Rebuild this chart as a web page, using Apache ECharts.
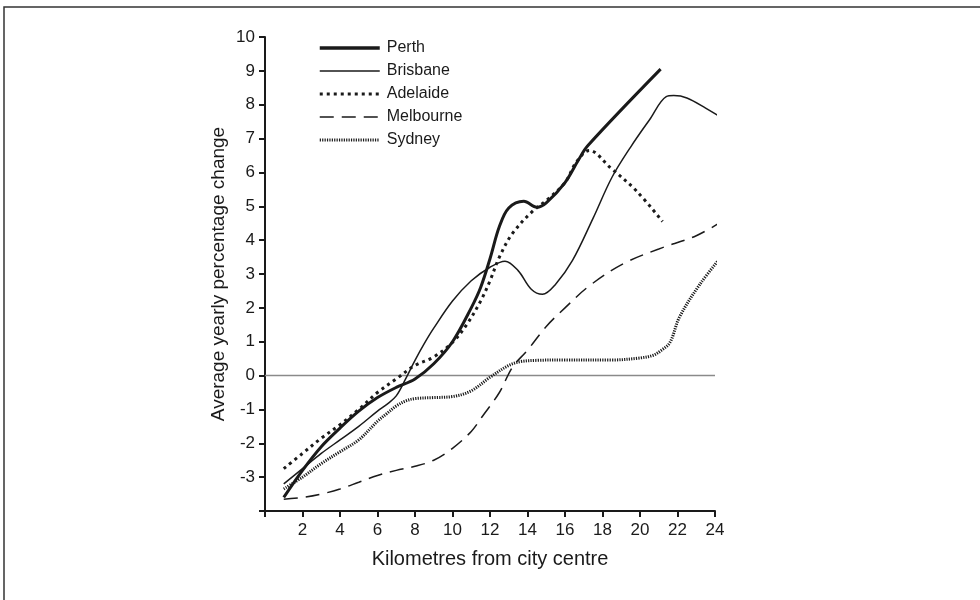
<!DOCTYPE html>
<html>
<head>
<meta charset="utf-8">
<script src="https://cdn.jsdelivr.net/npm/echarts@6/dist/echarts.min.js"></script>
<style>
html,body{margin:0;padding:0;background:#fff;}
#chart{width:980px;height:600px;}
</style>
</head>
<body>
<div id="chart"></div>
<script>
// ---- Data ----
const seriesNames = ['Perth', 'Brisbane', 'Adelaide', 'Melbourne', 'Sydney'];

const perthX = [1, 2, 3, 4, 5, 6, 7, 8, 9, 10, 11, 11.5, 12, 12.5, 13, 13.8, 14.5, 15, 16, 16.7, 17.2, 21.1];
const perthY = [-3.6, -2.8, -2.1, -1.55, -1.05, -0.65, -0.35, -0.1, 0.35, 1.0, 2.0, 2.6, 3.45, 4.4, 4.95, 5.15, 4.97, 5.1, 5.7, 6.35, 6.78, 9.05];

const brisbaneX = [1, 2, 3, 4, 5, 6, 6.5, 7, 7.5, 8, 8.5, 9, 10, 11, 12, 12.8, 13.5, 14.2, 14.8, 15.5, 16.4, 17.5, 18.5, 19.5, 20.5, 21.4, 21.8, 22.5, 23.5, 24.5];
const brisbaneY = [-3.2, -2.75, -2.3, -1.9, -1.5, -1.05, -0.85, -0.6, -0.1, 0.45, 0.95, 1.4, 2.2, 2.8, 3.2, 3.38, 3.1, 2.55, 2.4, 2.7, 3.4, 4.65, 5.85, 6.75, 7.55, 8.24, 8.27, 8.2, 7.9, 7.56];

const adelaideX = [1, 2, 3, 4, 5, 6, 7, 8, 9, 10, 10.75, 11.5, 12, 12.5, 13.2, 14.3, 15, 16, 16.6, 17.3, 18.4, 19.8, 21.2];
const adelaideY = [-2.75, -2.3, -1.85, -1.45, -1.0, -0.5, -0.1, 0.3, 0.55, 0.98, 1.5, 2.2, 2.8, 3.5, 4.2, 4.87, 5.17, 5.7, 6.3, 6.65, 6.15, 5.46, 4.55];

const melbourneX = [1, 2, 3, 4, 5, 6, 7, 8, 9, 10, 11, 11.6, 12.5, 13.2, 14, 15, 16, 17.3, 19.1, 21, 23, 24.6];
const melbourneY = [-3.65, -3.6, -3.5, -3.35, -3.15, -2.95, -2.8, -2.68, -2.5, -2.15, -1.65, -1.2, -0.5, 0.25, 0.75, 1.45, 2.0, 2.65, 3.3, 3.74, 4.13, 4.63];

const sydneyX = [1, 2, 3, 4, 5, 6, 6.5, 7, 7.5, 8, 9, 10, 11, 12, 13, 13.6, 14.5, 16, 18.5, 20, 20.7, 21.1, 21.6, 22.1, 23.2, 24.6];
const sydneyY = [-3.35, -3.0, -2.6, -2.25, -1.9, -1.35, -1.12, -0.9, -0.75, -0.68, -0.65, -0.62, -0.45, -0.05, 0.3, 0.41, 0.45, 0.46, 0.46, 0.52, 0.6, 0.73, 0.98, 1.72, 2.7, 3.69];

const xTicks = [2, 4, 6, 8, 10, 12, 14, 16, 18, 20, 22, 24];
const yTicks = [-3, -2, -1, 0, 1, 2, 3, 4, 5, 6, 7, 8, 9, 10];

const xTitle = 'Kilometres from city centre';
const yTitle = 'Average yearly percentage change';

// ---- Build ----
function pairs(xs, ys) { return xs.map((x, i) => [x, ys[i]]); }

const FONT = '"Liberation Sans", Arial, sans-serif';
const INK = '#1a1a1a';

const styles = {
  Perth:     { width: 3,   type: 'solid' },
  Brisbane:  { width: 1.5, type: 'solid' },
  Adelaide:  { width: 3,   type: [3, 4] },
  Melbourne: { width: 1.5, type: [14, 8] },
  Sydney:    { width: 3,   type: [1.2, 1.2] }
};
const dataMap = {
  Perth: pairs(perthX, perthY),
  Brisbane: pairs(brisbaneX, brisbaneY),
  Adelaide: pairs(adelaideX, adelaideY),
  Melbourne: pairs(melbourneX, melbourneY),
  Sydney: pairs(sydneyX, sydneyY)
};

const series = seriesNames.map((name, i) => ({
  name: name,
  type: 'line',
  data: dataMap[name],
  smooth: 0.35,
  symbol: 'none',
  clip: false,
  z: 3 + i,
  lineStyle: { color: INK, width: styles[name].width, type: styles[name].type, cap: 'butt' },
  itemStyle: { color: INK }
}));
// zero reference line
series.push({
  name: 'zero',
  type: 'line',
  data: [[0, 0], [24, 0]],
  symbol: 'none',
  silent: true,
  z: 1,
  lineStyle: { color: '#8a8a8a', width: 1.5 }
});

const legendData = seriesNames.map(name => ({
  name: name,
  itemStyle: { opacity: 0 },
  lineStyle: { color: INK, width: name === 'Perth' ? 3.5 : styles[name].width, type: styles[name].type, cap: 'butt' }
}));

const chart = echarts.init(document.getElementById('chart'), null, { renderer: 'canvas' });
chart.setOption({
  backgroundColor: '#fff',
  animation: false,
  textStyle: { fontFamily: FONT },
  graphic: [{
    type: 'rect',
    shape: { x: 4, y: 7, width: 1200, height: 1200 },
    style: { fill: 'none', stroke: '#333', lineWidth: 1.5 },
    silent: true, z: -1
  }],
  grid: { left: 265, right: 265, top: 37, bottom: 89 },
  legend: {
    data: legendData,
    orient: 'vertical',
    left: 313,
    top: 35,
    itemWidth: 60,
    itemHeight: 14,
    itemGap: 7,
    itemStyle: { opacity: 0 },
    textStyle: { fontFamily: FONT, fontSize: 16, color: INK, padding: [0, 0, 0, 2] },
    selectedMode: false
  },
  xAxis: {
    type: 'value',
    min: 0, max: 24, interval: 2,
    name: xTitle,
    nameLocation: 'middle',
    nameGap: 38,
    nameTextStyle: { fontFamily: FONT, fontSize: 20, color: INK },
    axisLine: { onZero: false, lineStyle: { color: INK, width: 2 } },
    axisTick: { show: true, length: 6, inside: false, lineStyle: { color: INK, width: 2 } },
    axisLabel: {
      fontFamily: FONT, fontSize: 17, color: INK, margin: 11,
      formatter: v => (xTicks.indexOf(v) >= 0 ? String(v) : '')
    },
    splitLine: { show: false }
  },
  yAxis: {
    type: 'value',
    min: -4, max: 10, interval: 1,
    name: yTitle,
    nameLocation: 'middle',
    nameGap: 37,
    nameRotate: 90,
    nameTextStyle: { fontFamily: FONT, fontSize: 19, color: INK },
    axisLine: { show: true, onZero: false, lineStyle: { color: INK, width: 2 } },
    axisTick: { show: true, length: 6, lineStyle: { color: INK, width: 2 } },
    axisLabel: {
      fontFamily: FONT, fontSize: 17, color: INK, margin: 10,
      formatter: v => (yTicks.indexOf(v) >= 0 ? String(v) : '')
    },
    splitLine: { show: false }
  },
  series: series
});
</script>
</body>
</html>
